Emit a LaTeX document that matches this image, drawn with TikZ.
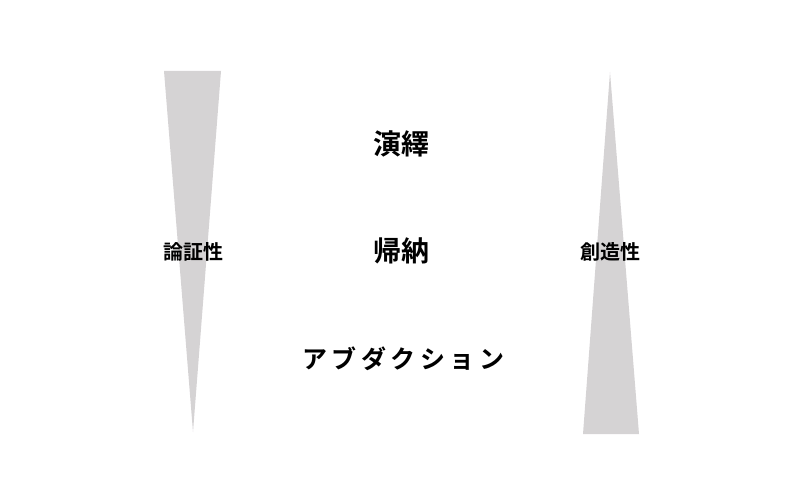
\documentclass[tikz,border=0pt]{standalone}
\usepackage{fontspec}
\newfontfamily\jpfont{Noto Sans CJK JP Bold}
\newfontfamily\jpbold{Noto Sans CJK JP Bold}
\newfontfamily\jpspaced[LetterSpace=18]{Noto Sans CJK JP Bold}
\definecolor{wedgegray}{HTML}{D5D3D4}
\tikzset{
  wedge/.style={fill=wedgegray, draw=none},
  method/.style={font=\jpfont\fontsize{28}{32}\selectfont, inner sep=0pt},
  axislabel/.style={font=\jpbold\fontsize{20}{24}\selectfont, inner sep=0pt}
}
\begin{document}
\begin{tikzpicture}[x=1pt, y=-1pt]
  \useasboundingbox (0,0) rectangle (800,500);
  % wedges
  \fill [wedge] (164,71) -- (221,71) -- (193,432) -- cycle;
  \fill [wedge] (610,72) -- (639,434) -- (583,434) -- cycle;
  % methods
  \node [method] (deduction) at (401,144) {演繹};
  \node [method] (induction) at (401,251) {帰納};
  \node [font=\jpspaced\fontsize{25}{30}\selectfont, inner sep=0pt] (abduction) at (403,359) {アブダクション};
  % labels
  \node [axislabel] (proof) at (193,252) {論証性};
  \node [axislabel] (creative) at (610,252) {創造性};
\end{tikzpicture}
\end{document}
